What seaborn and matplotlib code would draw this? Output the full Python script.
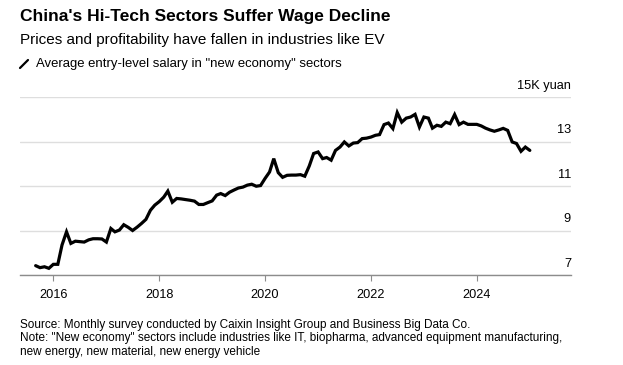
import matplotlib
matplotlib.use("Agg")
import matplotlib.pyplot as plt
import matplotlib.dates as mdates
from matplotlib.lines import Line2D
from matplotlib import transforms
import seaborn as sns
import pandas as pd

# ---- data ----
start_month = "2015-09"
salary = [
    7.42, 7.33, 7.37, 7.30,
    7.48, 7.48, 8.35, 8.94, 8.42, 8.52, 8.50, 8.48, 8.58, 8.63, 8.63, 8.62,
    8.48, 9.09, 8.94, 9.02, 9.26, 9.14, 9.00, 9.15, 9.32, 9.50, 9.91, 10.14,
    10.30, 10.50, 10.77, 10.27, 10.44, 10.42, 10.39, 10.36, 10.32, 10.17, 10.17, 10.25,
    10.33, 10.59, 10.66, 10.57, 10.72, 10.82, 10.91, 10.95, 11.04, 11.08, 10.99, 11.02,
    11.34, 11.63, 12.23, 11.60, 11.39, 11.48, 11.49, 11.49, 11.51, 11.44, 11.90, 12.46,
    12.53, 12.23, 12.28, 12.16, 12.60, 12.75, 12.98, 12.80, 12.93, 12.95, 13.13, 13.15,
    13.20, 13.28, 13.31, 13.76, 13.83, 13.58, 14.30, 13.87, 14.05, 14.10, 14.22, 13.65,
    14.10, 14.05, 13.60, 13.73, 13.68, 13.87, 13.80, 14.21, 13.76, 13.87, 13.77, 13.77,
    13.77, 13.70, 13.60, 13.52, 13.46, 13.52, 13.59, 13.50, 12.98, 12.91, 12.56, 12.75,
    12.60,
]
y_ticks = [7, 9, 11, 13, 15]
y_tick_labels = ["7", "9", "11", "13", "15K yuan"]
x_tick_years = [2016, 2018, 2020, 2022, 2024]

title = "China's Hi-Tech Sectors Suffer Wage Decline"
subtitle = "Prices and profitability have fallen in industries like EV"
legend_label = 'Average entry-level salary in "new economy" sectors'
footer = [
    "Source: Monthly survey conducted by Caixin Insight Group and Business Big Data Co.",
    'Note: "New economy" sectors include industries like IT, biopharma, advanced equipment manufacturing,',
    "new energy, new material, new energy vehicle",
]

df = pd.DataFrame({
    "date": pd.date_range(start_month, periods=len(salary), freq="MS"),
    "salary": salary,
})

# ---- style ----
sns.set_theme(style="white")
plt.rcParams["font.family"] = ["Liberation Sans", "DejaVu Sans"]

W, H = 623, 365
fig = plt.figure(figsize=(W / 100, H / 100), dpi=100)
ax = fig.add_axes([20 / W, 1 - 275 / H, (571 - 20) / W, (275 - 97) / H])

sns.lineplot(data=df, x="date", y="salary", ax=ax, color="black",
             linewidth=2.3, solid_joinstyle="miter")

ax.set_ylim(7, 15)
ax.set_xlim(pd.Timestamp("2015-05-16"), pd.Timestamp("2025-10-12"))
ax.set_xlabel("")
ax.set_ylabel("")

for s in ["left", "right", "top"]:
    ax.spines[s].set_visible(False)
ax.spines["bottom"].set_color("#8c8c8c")
ax.spines["bottom"].set_linewidth(1.0)

ax.set_yticks(y_ticks)
ax.yaxis.grid(True, color="#dedede", linewidth=1.0)
ax.tick_params(axis="y", left=False, right=False, labelleft=False)

ax.set_xticks([pd.Timestamp(f"{y}-01-01") for y in x_tick_years])
ax.xaxis.set_major_formatter(mdates.DateFormatter("%Y"))
ax.tick_params(axis="x", bottom=True, direction="out", length=4, width=0.8,
               color="#8c8c8c", pad=6, labelsize=9.2, labelcolor="black")

# y labels above gridlines, right-aligned
trans = transforms.blended_transform_factory(ax.transAxes, ax.transData)
offset = transforms.ScaledTranslation(0, 6.1 / 72, fig.dpi_scale_trans)
for v, lab in zip(y_ticks, y_tick_labels):
    ax.text(1.0, v, lab, transform=trans + offset, ha="right", va="baseline",
            fontsize=9.2, color="black", clip_on=False)

# header texts
fig.text(20 / W, 1 - 17 / H, title, fontsize=12.5, fontweight="bold",
         ha="left", va="center", color="black")
fig.text(20 / W, 1 - 40 / H, subtitle, fontsize=11.0,
         ha="left", va="center", color="black")
fig.add_artist(Line2D([20 / W, 28 / W], [1 - 68 / H, 1 - 60 / H],
                      transform=fig.transFigure, color="black", linewidth=1.6))
fig.text(36 / W, 1 - 63.5 / H, legend_label, fontsize=9.45,
         ha="left", va="center", color="black")

for i, line in enumerate(footer):
    fig.text(20 / W, 1 - (325 + 13.5 * i) / H, line, fontsize=8.45,
             ha="left", va="center", color="black")

fig.savefig("out.png", dpi=100)
